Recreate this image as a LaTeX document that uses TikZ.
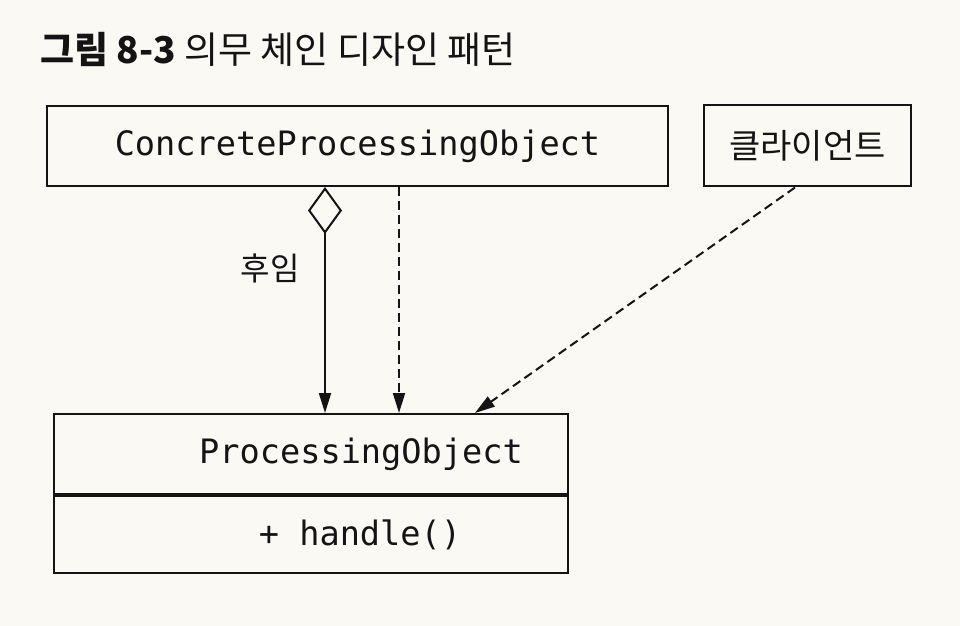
\documentclass[tikz,border=0pt]{standalone}
\usepackage{fontspec}
\setmonofont{DejaVu Sans Mono}
\newfontfamily\kofont{Noto Sans CJK KR}
\usetikzlibrary{arrows.meta,positioning,calc}
\definecolor{pagebg}{RGB}{251,249,243}
\definecolor{ink}{RGB}{20,20,20}
\tikzset{
  >={Triangle[length=10pt,width=6pt]},
  umlbox/.style={draw=ink, line width=1pt, inner sep=0pt},
  monotext/.style={font=\ttfamily\fontsize{16.8}{20}\selectfont, text=ink},
  kotext/.style={font=\kofont\fontsize{17}{20}\selectfont, text=ink},
  dep/.style={->, dashed, dash pattern=on 4.5pt off 2.5pt, line width=1pt, draw=ink},
  assoc/.style={{Diamond[open,length=23.5pt,width=17pt]}->, line width=1pt, draw=ink},
}
\begin{document}
\begin{tikzpicture}[x=0.5pt, y=-0.5pt]
  \fill[pagebg] (0,0) rectangle (960,626);
  \useasboundingbox (0,0) rectangle (960,626);

  \node[anchor=west, text=ink, font=\kofont\fontsize{18.5}{22}\selectfont, inner sep=0pt] (title) at (40,49) {{\bfseries 그림 8-3} 의무 체인 디자인 패턴};

  \node[umlbox, monotext, minimum width=310.5pt, minimum height=40pt] (cpo) at (357.5,146) {ConcreteProcessingObject};
  \node[umlbox, kotext, minimum width=103.5pt, minimum height=40.5pt, right=17pt of cpo] (client) {클라이언트};
  \node[umlbox, minimum width=257pt, minimum height=40pt, below=113pt of cpo.south west, anchor=north west, xshift=3.5pt] (po) {};
  \node[umlbox, minimum width=257pt, minimum height=38.5pt, below=0pt of po] (poops) {};
  \node[monotext] (poname) at ($(po.center)+(50,0)$) {ProcessingObject};
  \node[monotext] (pohandle) at ($(poops.center)+(49,0)$) {+ handle()};

  \node[kotext, font=\kofont\fontsize{16}{18}\selectfont] (succ) at (270,268) {후임};

  \draw[assoc] ([xshift=-16.25pt]cpo.south) -- ([xshift=-16.25pt]cpo.south |- po.north);
  \draw[dep] ([xshift=20.75pt]cpo.south) -- ([xshift=20.75pt]cpo.south |- po.north);
  \draw[dep] ([xshift=-6.25pt]client.south) -- ([xshift=82pt]po.north);
\end{tikzpicture}
\end{document}
